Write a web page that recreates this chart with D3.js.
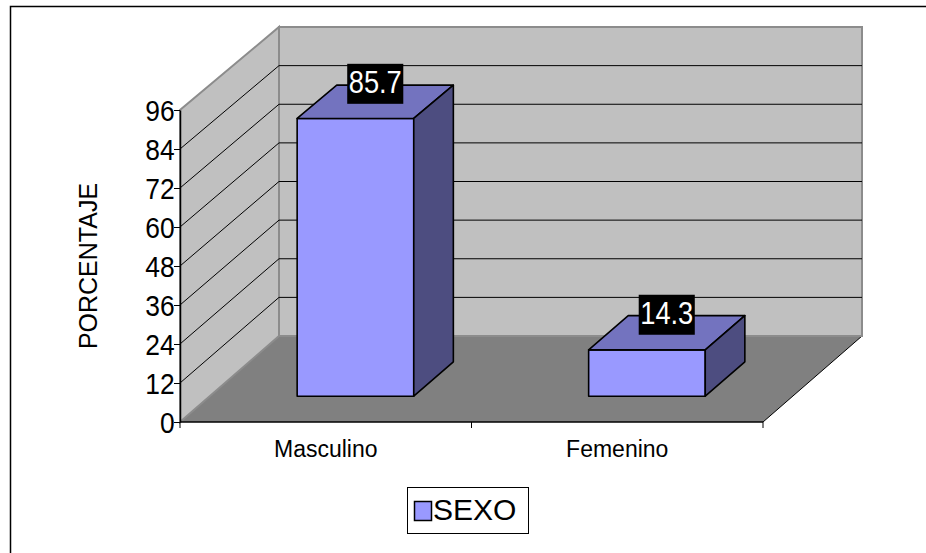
<!DOCTYPE html>
<html>
<head>
<meta charset="utf-8">
<script src="https://cdn.jsdelivr.net/npm/d3@7"></script>
<style>
  html, body { margin: 0; padding: 0; background: #ffffff; }
  svg { display: block; font-family: "Liberation Sans", Arial, sans-serif; }
</style>
</head>
<body>
<svg id="chart" width="926" height="553"></svg>
<script>
// Data
const categories = ["Masculino", "Femenino"];
const values = [85.7, 14.3];
const valueLabels = ["85.7", "14.3"];
const yTicks = [0, 12, 24, 36, 48, 60, 72, 84, 96];
const seriesName = "SEXO";
const axisTitle = "PORCENTAJE";

const svg = d3.select("#chart");

// Outer frame (right and bottom edges fall outside the view)
svg.append("rect")
  .attr("x", 10.5).attr("y", 6.5)
  .attr("width", 940).attr("height", 580)
  .attr("fill", "#ffffff").attr("stroke", "#000").attr("stroke-width", 1.5);

// Scales: front plane and back plane of the 3D box
const x = d3.scaleBand().domain(categories).range([180, 763]).padding(0);
const yFront = d3.scaleLinear().domain([0, 96]).range([422, 110]);
const yBack = d3.scaleLinear().domain([0, 96]).range([336, 27]);
const depthDX = 99;

// Project a point at front-plane x, value v, depth fraction z (0 = front, 1 = back)
function P(xf, v, z) {
  const yf = yFront(v), yb = yBack(v);
  return [xf + depthDX * z, yf + z * (yb - yf)];
}
const poly = pts => "M" + pts.map(p => p.join(",")).join("L") + "Z";

const x0 = x.range()[0], x1 = x.range()[1];
const vMax = yTicks[yTicks.length - 1];
const narrow = 0.88; // horizontal squeeze of the numeric labels

// Floor
svg.append("path")
  .attr("d", poly([P(x0, 0, 0), P(x1, 0, 0), P(x1, 0, 1), P(x0, 0, 1)]))
  .attr("fill", "#808080").attr("stroke", "none");
svg.append("line")
  .attr("x1", P(x1, 0, 0)[0]).attr("y1", P(x1, 0, 0)[1])
  .attr("x2", P(x1, 0, 1)[0]).attr("y2", P(x1, 0, 1)[1])
  .attr("stroke", "#000").attr("stroke-width", 1);

// Back wall
svg.append("path")
  .attr("d", poly([P(x0, 0, 1), P(x1, 0, 1), P(x1, vMax, 1), P(x0, vMax, 1)]))
  .attr("fill", "#c0c0c0").attr("stroke", "#8c8c8c").attr("stroke-width", 2);

// Side wall
svg.append("path")
  .attr("d", poly([P(x0, 0, 0), P(x0, 0, 1), P(x0, vMax, 1), P(x0, vMax, 0)]))
  .attr("fill", "#c0c0c0").attr("stroke", "#8c8c8c").attr("stroke-width", 2);

// Gridlines on back wall and side wall
const gridVals = yTicks.filter(v => v > 0 && v < vMax);
const grid = svg.append("g").attr("stroke", "#000").attr("stroke-width", 1).attr("fill", "none");
gridVals.forEach(v => {
  const a = P(x0, v, 0), b = P(x0, v, 1), c = P(x1, v, 1);
  grid.append("path").attr("d", "M" + a + "L" + b + "L" + c);
});

// Bars
const zFront = 0.3, zBack = 0.7, barFrac = 0.4;
const bars = svg.append("g").attr("stroke", "#000").attr("stroke-width", 1.6).attr("stroke-linejoin", "round");
const labelG = svg.append("g");
categories.forEach((c, i) => {
  const v = values[i];
  const bw = x.bandwidth() * barFrac;
  const xl = x(c) + (x.bandwidth() - bw) / 2, xr = xl + bw;
  const fbl = P(xl, 0, zFront), fbr = P(xr, 0, zFront);
  const ftl = P(xl, v, zFront), ftr = P(xr, v, zFront);
  const btl = P(xl, v, zBack), btr = P(xr, v, zBack), bbr = P(xr, 0, zBack);
  bars.append("path").attr("d", poly([fbl, fbr, ftr, ftl])).attr("fill", "#9999ff");
  bars.append("path").attr("d", poly([ftl, ftr, btr, btl])).attr("fill", "#7373bf");
  bars.append("path").attr("d", poly([fbr, bbr, btr, ftr])).attr("fill", "#4d4d80");

  // Value label centred on the top face
  const cx = (ftl[0] + btr[0]) / 2, cy = (ftl[1] + btr[1]) / 2;
  const g = labelG.append("g").attr("transform", `translate(${cx},${cy})`);
  const t = g.append("text")
    .attr("transform", `translate(0,-9) scale(${narrow},1)`)
    .attr("text-anchor", "middle")
    .attr("font-size", 31).attr("fill", "#fff")
    .text(valueLabels[i]);
  const w = t.node().getBBox().width * narrow;
  g.insert("rect", "text")
    .attr("x", -w / 2 - 1.5).attr("y", -38)
    .attr("width", w + 3).attr("height", 40)
    .attr("fill", "#000");
});

// Y axis
const yAxis = d3.axisLeft(yFront).tickValues(yTicks).tickSize(6).tickSizeOuter(0).tickPadding(0);
const yg = svg.append("g").attr("transform", "translate(180,0)").call(yAxis);
yg.select(".domain").attr("stroke", "#000").attr("stroke-width", 1.5);
yg.selectAll(".tick line").attr("stroke", "#000").attr("stroke-width", 1);
yg.selectAll(".tick text")
  .attr("font-size", 30).attr("fill", "#000").attr("font-family", "Liberation Sans, Arial, sans-serif")
  .attr("dy", "0.36em")
  .attr("transform", `scale(${narrow},1)`);

// X axis: front floor edge with ticks on category boundaries
const xg = svg.append("g");
xg.append("line").attr("x1", x0).attr("x2", x1).attr("y1", yFront(0)).attr("y2", yFront(0))
  .attr("stroke", "#000").attr("stroke-width", 1.5);
const bounds = categories.map(c => x(c)).concat([x1]);
bounds.forEach(bx => {
  xg.append("line").attr("x1", bx).attr("x2", bx).attr("y1", yFront(0)).attr("y2", yFront(0) + 6)
    .attr("stroke", "#000").attr("stroke-width", 1);
});
categories.forEach(c => {
  xg.append("text")
    .attr("x", x(c) + x.bandwidth() / 2).attr("y", 457)
    .attr("text-anchor", "middle").attr("font-size", 23).attr("fill", "#000")
    .text(c);
});

// Axis title
svg.append("text")
  .attr("transform", "translate(97,266) rotate(-90)")
  .attr("text-anchor", "middle").attr("font-size", 25).attr("fill", "#000")
  .text(axisTitle);

// Legend
const lg = svg.append("g");
lg.append("rect").attr("x", 407.5).attr("y", 487.5).attr("width", 121).attr("height", 46)
  .attr("fill", "#fff").attr("stroke", "#000").attr("stroke-width", 1);
lg.append("rect").attr("x", 414.5).attr("y", 501.5).attr("width", 17).attr("height", 19)
  .attr("fill", "#9999ff").attr("stroke", "#000").attr("stroke-width", 1.5);
lg.append("text").attr("x", 433).attr("y", 520).attr("font-size", 30).attr("fill", "#000")
  .text(seriesName);
</script>
</body>
</html>
